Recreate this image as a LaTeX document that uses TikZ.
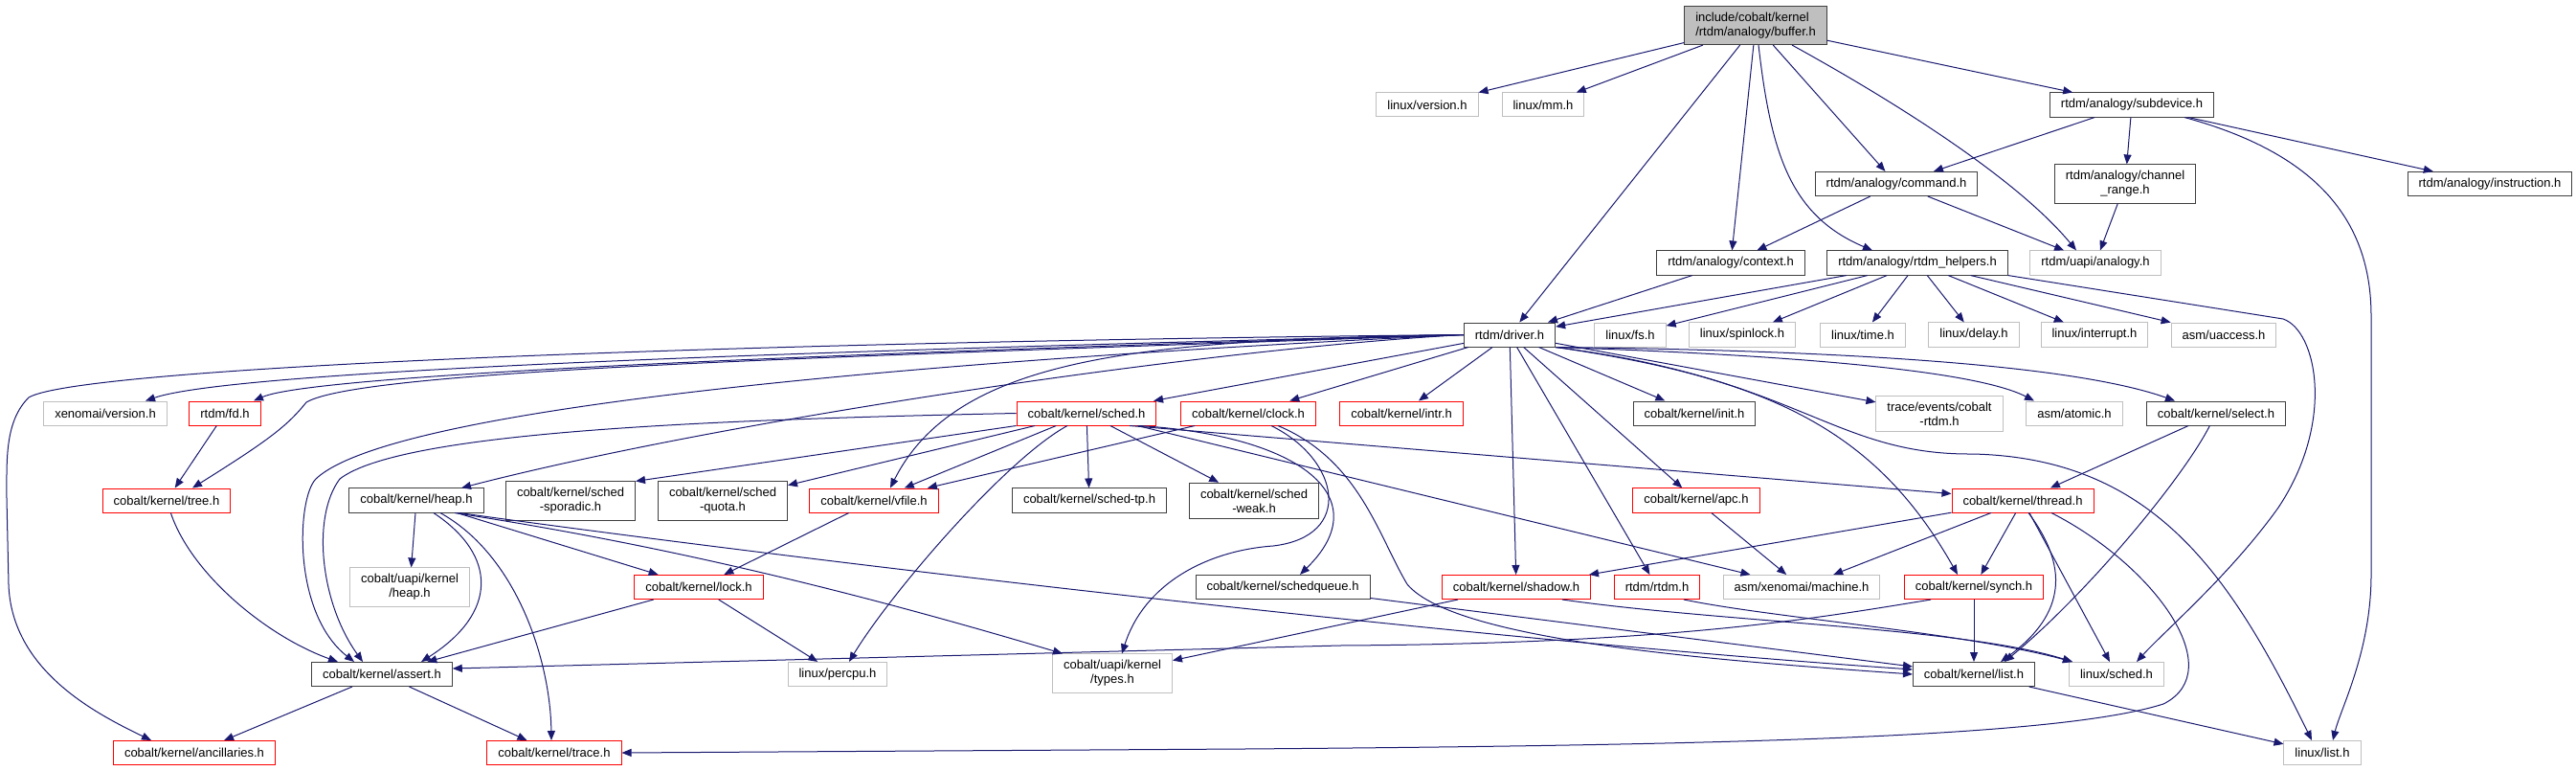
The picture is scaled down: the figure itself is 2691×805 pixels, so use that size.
\documentclass[tikz,border=0pt]{standalone}
\usepackage{fontspec}
\setmainfont{Liberation Sans}
\usetikzlibrary{arrows.meta}
\definecolor{edgeblue}{RGB}{25,25,112}
\definecolor{hdrred}{RGB}{255,0,0}
\definecolor{hdrgray}{RGB}{191,191,191}

\begin{document}
\begin{tikzpicture}[x=1pt, y=-1pt,
  hdr/.style={draw=black!75, fill=white, line width=1pt, align=center,
    font=\fontsize{13}{15}\selectfont, inner xsep=11.5pt, inner ysep=6.5pt,
    minimum height=25pt},
  redhdr/.style={hdr, draw=hdrred},
  grayhdr/.style={hdr, draw=hdrgray},
  dep/.style={draw=edgeblue, line width=1pt, -{Triangle[length=10pt,width=8pt]}}]
  \useasboundingbox (0,0) rectangle (2691,805);

  % Top part
  \node[hdr, fill=hdrgray, align=left] (root) at (1834,26.5) {include/cobalt/kernel\\/rtdm/analogy/buffer.h};
  \node[grayhdr] (version) at (1491,109.5) {linux/version.h};
  \node[grayhdr] (mm) at (1612,109.5) {linux/mm.h};
  \node[hdr] (subdev) at (2227,109.5) {rtdm/analogy/subdevice.h};
  \node[hdr] (command) at (1981,192) {rtdm/analogy/command.h};
  \node[hdr] (chanrange) at (2220,192) {rtdm/analogy/channel\\\_range.h};
  \node[hdr] (instr) at (2601,192) {rtdm/analogy/instruction.h};
  \node[hdr] (context) at (1808,274.5) {rtdm/analogy/context.h};
  \node[hdr] (helpers) at (2003,274.5) {rtdm/analogy/rtdm\_helpers.h};
  \node[grayhdr] (uapi) at (2189,274.5) {rtdm/uapi/analogy.h};

  % driver row
  \node[hdr] (driver) at (1577,349.5) {rtdm/driver.h};
  \node[grayhdr] (fs) at (1703,349.5) {linux/fs.h};
  \node[grayhdr] (spinlock) at (1820,349.5) {linux/spinlock.h};
  \node[grayhdr] (time) at (1946,349.5) {linux/time.h};
  \node[grayhdr] (delay) at (2062,349.5) {linux/delay.h};
  \node[grayhdr] (interrupt) at (2188,349.5) {linux/interrupt.h};
  \node[grayhdr] (uaccess) at (2323,349.5) {asm/uaccess.h};

  % Included by driver.h
  \node[grayhdr] (xversion) at (110,431.5) {xenomai/version.h};
  \node[redhdr] (fd) at (235,431.5) {rtdm/fd.h};
  \node[redhdr] (sched) at (1135,431.5) {cobalt/kernel/sched.h};
  \node[redhdr] (clock) at (1304,431.5) {cobalt/kernel/clock.h};
  \node[redhdr] (intr) at (1464,431.5) {cobalt/kernel/intr.h};
  \node[hdr] (init) at (1770,431.5) {cobalt/kernel/init.h};
  \node[grayhdr] (traceev) at (2026,432) {trace/events/cobalt\\-rtdm.h};
  \node[grayhdr] (atomic) at (2167,431.5) {asm/atomic.h};
  \node[hdr] (select) at (2315,431.5) {cobalt/kernel/select.h};

  \node[redhdr] (tree) at (174,522.5) {cobalt/kernel/tree.h};
  \node[hdr] (heap) at (435,522.5) {cobalt/kernel/heap.h};
  \node[hdr] (sporadic) at (596,523) {cobalt/kernel/sched\\-sporadic.h};
  \node[hdr] (quota) at (755,523) {cobalt/kernel/sched\\-quota.h};
  \node[redhdr] (vfile) at (913,522.5) {cobalt/kernel/vfile.h};
  \node[hdr] (tp) at (1138,522.5) {cobalt/kernel/sched-tp.h};
  \node[hdr] (weak) at (1310,523) {cobalt/kernel/sched\\-weak.h};
  \node[redhdr] (apc) at (1772,522.5) {cobalt/kernel/apc.h};
  \node[redhdr] (thread) at (2113,522.5) {cobalt/kernel/thread.h};

  \node[grayhdr] (uapiheap) at (428,613) {cobalt/uapi/kernel\\/heap.h};
  \node[redhdr] (lock) at (730,613) {cobalt/kernel/lock.h};
  \node[hdr] (schedq) at (1340,613) {cobalt/kernel/schedqueue.h};
  \node[redhdr] (shadow) at (1584,613) {cobalt/kernel/shadow.h};
  \node[redhdr] (rtdm) at (1731,613) {rtdm/rtdm.h};
  \node[grayhdr] (machine) at (1882,613) {asm/xenomai/machine.h};
  \node[redhdr] (synch) at (2062,613) {cobalt/kernel/synch.h};

  \node[hdr] (assert) at (399,704) {cobalt/kernel/assert.h};
  \node[grayhdr] (percpu) at (875,704) {linux/percpu.h};
  \node[grayhdr] (types) at (1162,703) {cobalt/uapi/kernel\\/types.h};
  \node[hdr] (list) at (2062,704) {cobalt/kernel/list.h};
  \node[grayhdr] (lsched) at (2211,704) {linux/sched.h};

  \node[redhdr] (ancil) at (203,786) {cobalt/kernel/ancillaries.h};
  \node[redhdr] (trace) at (579,786) {cobalt/kernel/trace.h};
  \node[grayhdr] (llist) at (2426,786) {linux/list.h};

  % buffer.h
  \foreach \t in {version,mm,driver,context,command,subdev}
    \draw[dep] (root) -- (\t);
  \draw[dep] ([xshift=3pt]root.south) .. controls (1850,160) and (1870,225) .. ([xshift=-47pt]helpers.north);
  \draw[dep] ([xshift=38pt]root.south) .. controls (1990,112) and (2110,190) .. ([xshift=-20pt]uapi.north);

  % subdevice.h
  \foreach \t in {command,chanrange,instr}
    \draw[dep] (subdev) -- (\t);
  \draw[dep] ([xshift=55pt]subdev.south) .. controls (2420,160) and (2477,230) .. (2477,330)
    -- (2477,600) .. controls (2477,680) and (2445,740) .. ([xshift=11pt]llist.north);

  % command.h, channel_range.h, context.h
  \draw[dep] (command) -- (context);
  \draw[dep] (command) -- (uapi);
  \draw[dep] (chanrange) -- (uapi);
  \draw[dep] (context) -- (driver);

  % rtdm_helpers.h
  \foreach \t in {driver,fs,spinlock,time,delay,interrupt,uaccess}
    \draw[dep] (helpers) -- (\t);
  \draw[dep] (helpers.south east) -- (2385,333) .. controls (2420,345) and (2440,440) .. (2380,530)
    .. controls (2330,600) and (2260,660) .. ([xshift=21pt]lsched.north);

  % driver.h, to the left
  \draw[dep] (driver.west) .. controls (900,365) and (250,385) .. ([xshift=42pt]xversion.north);
  \draw[dep] (driver.west) .. controls (900,368) and (330,390) .. ([xshift=30pt]fd.north);
  \draw[dep] (driver.west) .. controls (900,372) and (380,385) .. (320,420)
    .. controls (300,445) and (280,460) .. ([xshift=27pt]tree.north);
  \draw[dep] (driver.west) .. controls (700,358) and (80,385) .. (30,415)
    .. controls (5,440) and (7,480) .. (7,520) -- (9,610)
    .. controls (12,700) and (100,745) .. ([xshift=-45pt]ancil.north);
  \draw[dep] (driver.west) .. controls (1100,370) and (420,415) .. (330,500)
    .. controls (310,520) and (305,640) .. ([xshift=-29pt]assert.north);
  \draw[dep] (driver.west) .. controls (1250,365) and (750,440) .. ([xshift=47pt]heap.north);
  \draw[dep] (driver.west) .. controls (1200,355) and (1000,370) .. ([xshift=17pt]vfile.north);
  % driver.h, downwards
  \foreach \t in {sched,clock,intr,shadow,rtdm,apc,init,traceev}
    \draw[dep] (driver) -- (\t);
  % driver.h, to the right
  \draw[dep] (driver.south east) .. controls (1850,395) and (1960,450) .. ([xshift=-17pt]synch.north);
  \draw[dep] (driver.south east) .. controls (1880,395) and (1915,475) .. (2060,474)
    .. controls (2250,478) and (2330,600) .. ([xshift=-11pt]llist.north);
  \draw[dep] (driver.south east) .. controls (1850,370) and (2060,385) .. ([xshift=-42pt]atomic.north);
  \draw[dep] (driver.south east) .. controls (1850,365) and (2150,375) .. ([xshift=-43pt]select.north);

  % fd.h, tree.h
  \draw[dep] (fd) -- (tree);
  \draw[dep] (tree) .. controls (200,600) and (280,665) .. ([xshift=-46pt]assert.north);

  % heap.h
  \draw[dep] (heap) -- (uapiheap);
  \draw[dep] (heap) -- (lock);
  \draw[dep] ([xshift=18pt]heap.south) .. controls (520,580) and (520,640) .. ([xshift=41pt]assert.north);
  \draw[dep] ([xshift=25pt]heap.south) .. controls (540,580) and (575,690) .. ([xshift=-3pt]trace.north);
  \draw[dep] ([xshift=40pt]heap.south) .. controls (700,570) and (900,620) .. ([xshift=-52pt]types.north);
  \draw[dep] ([xshift=45pt]heap.south) .. controls (800,580) and (1500,665) .. ([yshift=5pt]list.west);

  % sched.h
  \draw[dep] (sched.west) .. controls (750,438) and (420,450) .. (355,500)
    .. controls (325,540) and (335,630) .. ([xshift=-20pt]assert.north);
  \draw[dep] (sched.south west) -- (sporadic.north east);
  \foreach \t in {quota,vfile,tp,weak,machine}
    \draw[dep] (sched) -- (\t);
  \draw[dep] ([xshift=-20pt]sched.south) .. controls (1050,480) and (930,620) .. ([xshift=12pt]percpu.north);
  \draw[dep] ([xshift=55pt]sched.south) .. controls (1360,455) and (1440,520) .. ([xshift=18pt]schedq.north);
  \draw[dep] ([xshift=45pt]sched.south) -- ([yshift=7pt]thread.west);

  % clock.h
  \draw[dep] (clock) -- (vfile);
  \draw[dep] ([xshift=24pt]clock.south) .. controls (1400,480) and (1415,560) .. (1330,570)
    .. controls (1260,575) and (1195,610) .. ([xshift=10pt]types.north);
  \draw[dep] ([xshift=31pt]clock.south) .. controls (1420,480) and (1440,560) .. (1470,610)
    .. controls (1520,670) and (1800,690) .. (list.west);

  % vfile.h, lock.h, assert.h
  \draw[dep] (vfile) -- (lock);
  \draw[dep] (lock) -- (assert);
  \draw[dep] (lock) -- (percpu);
  \draw[dep] (assert) -- (ancil);
  \draw[dep] (assert) -- (trace);

  % select.h, thread.h
  \draw[dep] (select) -- (thread);
  \draw[dep] (select) .. controls (2280,500) and (2180,620) .. ([xshift=32pt]list.north);
  \foreach \t in {shadow,machine,synch,lsched}
    \draw[dep] (thread) -- (\t);
  \draw[dep] ([xshift=6pt]thread.south) .. controls (2160,590) and (2160,640) .. ([xshift=28pt]list.north);
  \draw[dep] ([xshift=30pt]thread.south) .. controls (2250,590) and (2330,700) .. (2260,735)
    .. controls (2150,770) and (1800,778) .. (1300,782) -- (trace.east);

  % apc.h, shadow.h, rtdm.h, synch.h, schedqueue.h, list.h
  \draw[dep] (apc) -- (machine);
  \draw[dep] (shadow) -- (types);
  \draw[dep] ([xshift=48pt]shadow.south) .. controls (1800,650) and (2050,655) .. ([xshift=-46pt]lsched.north);
  \draw[dep] ([xshift=28pt]rtdm.south) .. controls (1850,645) and (2050,660) .. ([xshift=-46pt]lsched.north);
  \draw[dep] ([xshift=-45pt]synch.south) .. controls (1900,645) and (1750,672) .. (1400,674)
    -- ([yshift=6pt]assert.east);
  \draw[dep] (synch) -- (list);
  \draw[dep] (schedq) -- (list);
  \draw[dep] (list) -- (llist);
\end{tikzpicture}
\end{document}
